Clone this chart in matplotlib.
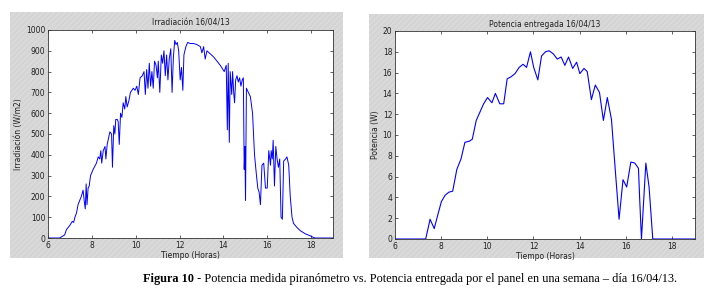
import matplotlib
matplotlib.use("Agg")
import matplotlib.pyplot as plt
from matplotlib.patches import Rectangle

# Irradiance (hour, W/m2)
irr_t = [6.0, 6.53, 6.76, 6.84, 6.99, 7.11, 7.17, 7.23, 7.3, 7.37, 7.52, 7.6, 7.65, 7.7,
         7.74, 7.78, 7.83, 7.88, 7.94, 8.06, 8.21, 8.29, 8.36, 8.41, 8.45, 8.52, 8.6,
         8.64, 8.7, 8.76, 8.82, 8.9, 8.94, 9.0, 9.05, 9.09, 9.16, 9.2, 9.25, 9.31, 9.37,
         9.43, 9.5, 9.55, 9.61, 9.69, 9.76, 9.89, 9.97, 10.05, 10.12, 10.2, 10.3, 10.38,
         10.44, 10.5, 10.56, 10.62, 10.68, 10.74, 10.8, 10.86, 10.93, 10.99, 11.03, 11.1,
         11.17, 11.23, 11.29, 11.35, 11.41, 11.47, 11.53, 11.6, 11.66, 11.72, 11.78, 11.84,
         11.9, 11.96, 12.03, 12.09, 12.15, 12.2, 12.29, 12.37, 12.49, 12.64, 12.79, 12.95,
         13.02, 13.1, 13.17, 13.25, 13.56, 13.86, 14.04, 14.13, 14.18, 14.22, 14.27, 14.31,
         14.38, 14.42, 14.47, 14.51, 14.56, 14.62, 14.68, 14.74, 14.8, 14.86, 14.91, 14.95,
         14.98, 15.01, 15.05, 15.14, 15.23, 15.33, 15.42, 15.51, 15.57, 15.63, 15.69, 15.76,
         15.84, 15.92, 16.0, 16.07, 16.15, 16.18, 16.23, 16.27, 16.33, 16.39, 16.45, 16.51,
         16.57, 16.63, 16.69, 16.75, 16.84, 16.9, 16.98, 17.05, 17.13, 17.2, 17.36, 17.51,
         17.74, 17.97, 18.12, 18.2, 19.0]
irr_w = [0, 0, 15, 40, 60, 80, 75, 100, 120, 160, 200, 230, 180, 140,
         260, 160, 240, 250, 300, 330, 360, 390, 380, 420, 360, 420, 440,
         380, 450, 480, 510, 500, 340, 540, 500, 570, 570, 560, 450, 600, 580,
         650, 620, 680, 630, 660, 700, 720, 710, 730, 690, 770, 780, 800,
         690, 810, 720, 840, 730, 800, 720, 850, 830, 770, 850, 700,
         880, 840, 900, 780, 880, 760, 860, 910, 700, 870, 950, 930,
         940, 900, 760, 820, 710, 880, 920, 940, 935, 935, 930, 920,
         890, 920, 860, 900, 870, 830, 800, 830, 520, 840, 460, 800,
         690, 800, 700, 650, 760, 780, 750, 770, 730, 760, 770, 330,
         440, 180, 720, 700, 680, 600, 400, 300, 240, 220, 160, 350,
         360, 240, 240, 420, 350, 420, 380, 470, 250, 440, 380, 340,
         380, 100, 90, 370, 380, 390, 350, 200, 100, 70, 50, 35,
         20, 10, 2, 0, 0]

# Power delivered by the panel, right panel (hour, W)
pot_t = [6.0, 7.33, 7.52, 7.70, 7.84, 8.01, 8.17, 8.33, 8.5, 8.68, 8.86, 9.03, 9.22,
         9.35, 9.52, 9.7, 9.84, 10.01, 10.2, 10.35, 10.54, 10.71, 10.86, 11.03, 11.2,
         11.38, 11.55, 11.7, 11.87, 12.01, 12.19, 12.35, 12.52, 12.68, 12.86, 13.03,
         13.2, 13.36, 13.52, 13.7, 13.87, 14.01, 14.19, 14.33, 14.51, 14.68, 14.86,
         15.03, 15.2, 15.38, 15.55, 15.71, 15.88, 16.04, 16.22, 16.39, 16.55, 16.6,
         16.68, 16.87, 17.01, 17.17, 19.0]
pot_w = [0, 0, 1.9, 1.0, 2.2, 3.6, 4.2, 4.5, 4.6, 6.7, 7.7, 9.3, 9.4,
         9.6, 11.4, 12.3, 13.0, 13.6, 13.1, 14.0, 13.0, 13.0, 15.4, 15.6, 15.9,
         16.5, 16.8, 16.5, 18.0, 16.5, 15.3, 17.6, 18.0, 18.1, 17.8, 17.3,
         17.5, 16.7, 17.5, 16.4, 17.0, 15.9, 16.4, 16.1, 13.4, 14.8, 14.1,
         11.4, 13.6, 11.5, 6.5, 1.9, 5.7, 5.0, 7.4, 7.3, 6.8, 4.0,
         0.0, 7.3, 5.0, 0.0, 0]

caption_bold = "Figura 10"
caption_rest = (" - Potencia medida piranómetro vs. Potencia entregada por el panel "
                "en una semana – día 16/04/13.")

W, H = 716, 293
fig = plt.figure(figsize=(W / 100, H / 100), dpi=100)
fig.patch.set_facecolor("white")

# gray hatched matlab-style window backgrounds, behind the axes
for x0, y0, x1, y1 in [(10, 12, 343, 258), (369, 14, 704, 258)]:
    fig.patches.append(Rectangle((x0 / W, 1 - y1 / H), (x1 - x0) / W, (y1 - y0) / H,
                                 transform=fig.transFigure, facecolor="#d4d4d4",
                                 edgecolor="#dcdcdc", hatch="//////", linewidth=0,
                                 zorder=-5))

ax1 = fig.add_axes([48 / W, 1 - 238 / H, 285 / W, 208 / H])
ax2 = fig.add_axes([395 / W, 1 - 239 / H, 300 / W, 208 / H])

ax1.plot(irr_t, irr_w, color="#0000ff", linewidth=0.7)
ax2.plot(pot_t, pot_w, color="#0000ff", linewidth=0.8)

ax1.set_ylim(0, 1000)
ax1.set_yticks(range(0, 1001, 100))
ax2.set_ylim(0, 20)
ax2.set_yticks(range(0, 21, 2))

for ax, title, ylab in [(ax1, "Irradiación 16/04/13", "Irradiación (W/m2)"),
                        (ax2, "Potencia entregada 16/04/13", "Potencia (W)")]:
    ax.set_facecolor("white")
    ax.set_xlim(6, 19)
    ax.set_xticks(range(6, 19, 2))
    ax.tick_params(direction="in", top=True, right=True, labelsize=5.5, length=2.5,
                   width=0.5, pad=2, colors="#222222")
    for s in ax.spines.values():
        s.set_linewidth(0.6)
        s.set_color("#333333")
    ax.set_title(title, fontsize=5.5, pad=3, color="#222222")
    ax.set_xlabel("Tiempo (Horas)", fontsize=5.5, labelpad=1, color="#222222")
    ax.set_ylabel(ylab, fontsize=5.5, labelpad=2, color="#222222")

# caption: bold part then the rest right after it
t = fig.text(143 / W, 1 - 282 / H, caption_bold, fontsize=8.85, fontweight="bold",
             family="Liberation Serif", va="baseline")
fig.texts.append(plt.Annotation(caption_rest, xy=(1, 0), xycoords=t, va="bottom",
                                ha="left", fontsize=8.85, family="Liberation Serif"))
fig.texts[-1].set_figure(fig)

fig.savefig("out.png", dpi=100)
